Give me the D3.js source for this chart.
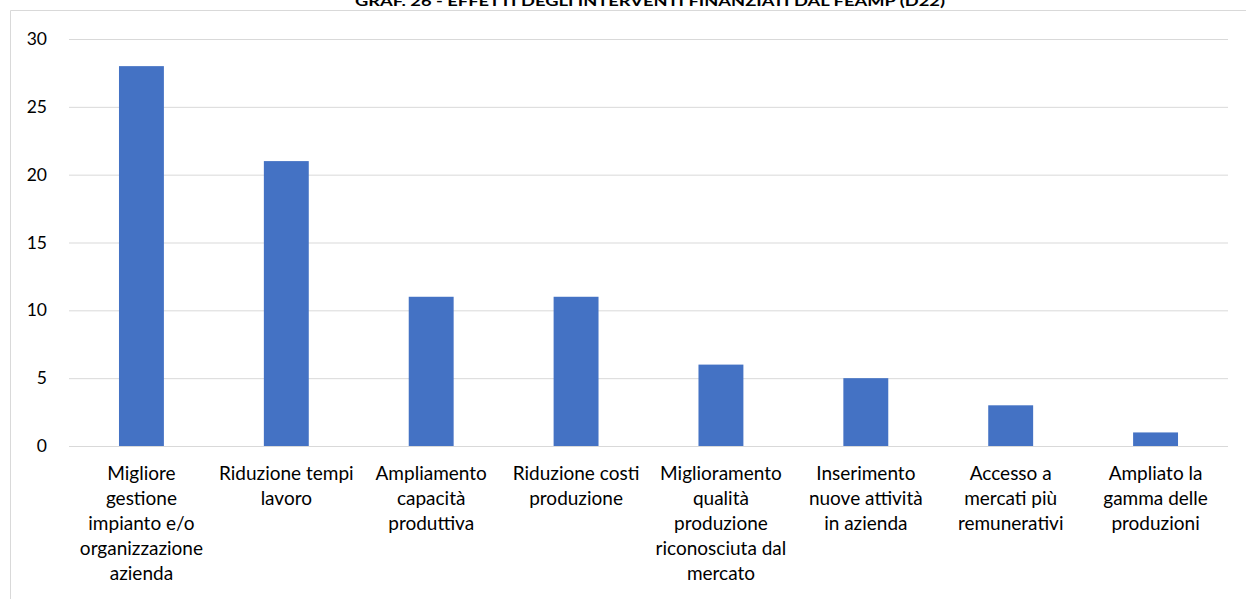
<!DOCTYPE html>
<html><head><meta charset="utf-8">
<script src="https://cdn.jsdelivr.net/npm/d3@7"></script>
<style>body{margin:0;background:#fff}svg{display:block}</style>
</head><body>
<svg id="c" width="1246" height="599"></svg>
<script>
const categories = [
  ["Migliore","gestione","impianto e/o","organizzazione","azienda"],
  ["Riduzione tempi","lavoro"],
  ["Ampliamento","capacità","produttiva"],
  ["Riduzione costi","produzione"],
  ["Miglioramento","qualità","produzione","riconosciuta dal","mercato"],
  ["Inserimento","nuove attività","in azienda"],
  ["Accesso a","mercati più","remunerativi"],
  ["Ampliato la","gamma delle","produzioni"]
];
const values = [28, 21, 11, 11, 6, 5, 3, 1];
const yTicks = [0, 5, 10, 15, 20, 25, 30];
const title = "GRAF. 26 - EFFETTI DEGLI INTERVENTI FINANZIATI DAL FEAMP (D22)";

const svg = d3.select("#c");
const font = "Lato, 'Open Sans', sans-serif";

// outer frame
svg.append("path").attr("d","M10.5,599 V10.5 H1246").attr("fill","none").attr("stroke","#d9d9d9").attr("stroke-width",1);

svg.append("text").attr("x",650).attr("y",6).attr("text-anchor","middle")
  .attr("font-family",font).attr("font-weight","bold").attr("font-size",14)
  .attr("textLength",590).attr("lengthAdjust","spacingAndGlyphs")
  .attr("fill","#000").text(title);

const idx = d3.range(values.length);
const x = d3.scaleBand().domain(idx).range([69, 1228]).paddingInner(0.69).paddingOuter(0.345);
const y = d3.scaleLinear().domain([0, 30]).range([446, 39]);

// gridlines
svg.append("g").selectAll("line").data(yTicks).join("line")
  .attr("x1",69).attr("x2",1228).attr("y1",d=>y(d)+0.5).attr("y2",d=>y(d)+0.5)
  .attr("stroke","#d9d9d9").attr("stroke-width",1);

// y labels
svg.append("g").selectAll("text").data(yTicks).join("text")
  .attr("x",47).attr("y",d=>y(d)).attr("dy","0.35em").attr("text-anchor","end")
  .attr("font-family",font).attr("font-size",17.5).attr("fill","#000").text(d=>d);

// bars
svg.append("g").selectAll("rect").data(values).join("rect")
  .attr("x",(d,i)=>x(i)).attr("width",x.bandwidth())
  .attr("y",d=>y(d)).attr("height",d=>y(0)-y(d)).attr("fill","#4472c4");

// category labels
const g = svg.append("g");
categories.forEach((lines,i)=>{
  const cx = x(i) + x.bandwidth()/2;
  const t = g.append("text").attr("text-anchor","middle").attr("font-family",font)
    .attr("font-size",19).attr("fill","#000");
  lines.forEach((l,j)=>{
    t.append("tspan").attr("x",cx).attr("y",479.5 + j*25).text(l);
  });
});
</script>
</body></html>
